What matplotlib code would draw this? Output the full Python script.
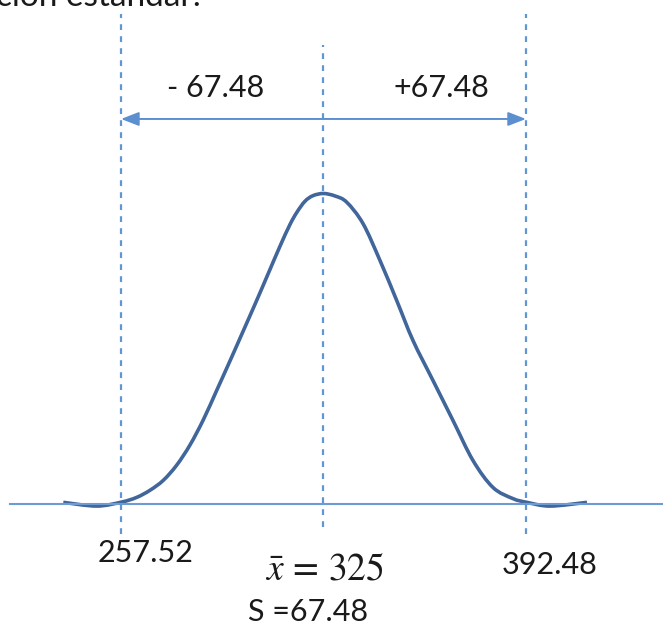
import matplotlib.pyplot as plt
from matplotlib.path import Path
from matplotlib.patches import PathPatch

# values shown on the chart
mean = 325.0
s = 67.48
low_label = "257.52"
high_label = "392.48"

# bell curve (x in data units, height relative to peak)
curve_x = [238.27, 249.4, 257.73, 262.73, 267.17, 271.6, 276.07, 280.5, 284.93,
           289.4, 293.83, 298.17, 302.5, 306.5, 310.5, 313.83, 316.17, 318.83,
           321.5, 325.0, 328.83, 332.73, 338.17, 343.83, 349.4, 354.83, 361.5,
           368.17, 374.83, 381.5, 388.17, 392.83, 400.5, 412.83]
curve_y = [0.004, -0.008, 0.005, 0.020, 0.043, 0.075, 0.124, 0.189, 0.270,
           0.365, 0.460, 0.555, 0.650, 0.740, 0.830, 0.900, 0.940, 0.975,
           0.993, 1.0, 0.992, 0.972, 0.903, 0.784, 0.655, 0.526, 0.397,
           0.268, 0.139, 0.052, 0.016, 0.004, -0.008, 0.004]

plt.rcParams['font.family'] = ['Lato', 'DejaVu Sans']
plt.rcParams['mathtext.fontset'] = 'stix'

W, H = 663, 627
fig = plt.figure(figsize=(W / 100, H / 100), dpi=100)
ax = fig.add_axes([0, 0, 1, 1])
ax.set_xlim(217.17, 438.17)
ax.set_ylim(-0.398, 1.624)
ax.axis('off')

dash_c = '#6196d6'
txt_c = '#1a1a1a'

# baseline
ax.axhline(0, xmin=10 / W, xmax=1, color='#6d9bd3', lw=1.5)

# dashed verticals at mean - s, mean, mean + s
for xv, y0, y1 in [(mean - s, 534, 14), (mean, 527, 45), (mean + s, 534, 14)]:
    ax.axvline(xv, ymin=1 - y0 / H, ymax=1 - y1 / H, color=dash_c, lw=1.6,
               dashes=(2.6, 2.8))

# curve: smooth bezier path through the read points (catmull-rom handles)
pts = list(zip(curve_x, curve_y))
verts = [pts[0]]
codes = [Path.MOVETO]
for i in range(len(pts) - 1):
    p0 = pts[i - 1] if i > 0 else pts[i]
    p1, p2 = pts[i], pts[i + 1]
    p3 = pts[i + 2] if i + 2 < len(pts) else p2
    c1 = (p1[0] + (p2[0] - p0[0]) / 6, p1[1] + (p2[1] - p0[1]) / 6)
    c2 = (p2[0] - (p3[0] - p1[0]) / 6, p2[1] - (p3[1] - p1[1]) / 6)
    verts += [c1, c2, p2]
    codes += [Path.CURVE4] * 3
ax.add_patch(PathPatch(Path(verts, codes), facecolor='none', edgecolor='#41669b',
                       lw=2.6, capstyle='butt', joinstyle='round'))

# double arrow between -s and +s
ay = (503.5 - 119) / 310
ax.annotate('', xy=(mean - s, ay), xytext=(mean + s, ay),
            arrowprops=dict(arrowstyle='<|-|>,head_length=0.9,head_width=0.35',
                            color='#5b8fd0', lw=1.4, mutation_scale=12,
                            shrinkA=0, shrinkB=0))

def put(px, py, text, size=22, **kw):
    ax.text(px / W, 1 - py / H, text, transform=ax.transAxes, ha='center',
            va='center', fontsize=size, color=txt_c, **kw)

put(216, 88, "- " + f"{s:.2f}")
put(441, 88, "+" + f"{s:.2f}")
put(146, 553, low_label)
put(550, 565, high_label)
put(325, 568, r'$\bar{x}\,=\,325$', size=27)
put(308, 612, "S =" + f"{s:.2f}", size=22)

# cut-off caption at the top edge
ax.text(-4 / W, 1 - 6 / H, "ción estándar:", transform=ax.transAxes, ha='left',
        va='baseline', fontsize=24, color=txt_c)

fig.savefig('out.png', dpi=100)
